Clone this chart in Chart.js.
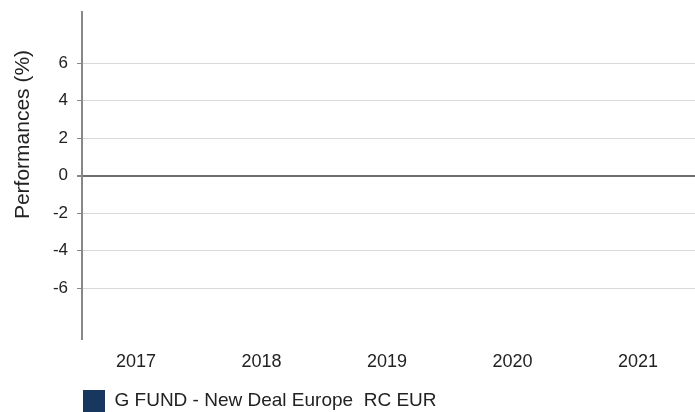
<!DOCTYPE html>
<html>
<head>
<meta charset="utf-8">
<script src="https://cdn.jsdelivr.net/npm/chart.js@4/dist/chart.umd.min.js"></script>
<style>
  html, body { margin: 0; padding: 0; background: #ffffff; }
  #wrap { width: 695px; height: 412px; position: relative; }
</style>
</head>
<body>
<div id="wrap"><canvas id="c" width="695" height="412"></canvas></div>
<script>
// ---- data ----
const categories = [2017, 2018, 2019, 2020, 2021];
const seriesName = "G FUND - New Deal Europe  RC EUR";
const seriesValues = [null, null, null, null, null];
const yTickValues = [-6, -4, -2, 0, 2, 4, 6];
const yAxisTitle = "Performances (%)";

const FONT = "'Liberation Sans', Arial, Helvetica, sans-serif";

const yTitlePlugin = {
  id: 'yTitlePlugin',
  afterDraw(chart) {
    const ctx = chart.ctx;
    ctx.save();
    ctx.translate(23.5, 134.5);
    ctx.rotate(-Math.PI / 2);
    ctx.font = "21px " + FONT;
    ctx.fillStyle = '#222222';
    ctx.textAlign = 'center';
    ctx.textBaseline = 'middle';
    ctx.fillText(yAxisTitle, 0, 0);
    ctx.restore();
  }
};

// shift the legend so its first item starts under the y axis line
const legendShift = {
  id: 'legendShift',
  afterLayout(chart) {
    const lg = chart.legend;
    if (lg) {
      const dx = 72 - lg.left;
      lg.left += dx;
      lg.right += dx;
    }
  }
};

new Chart(document.getElementById('c'), {
  type: 'bar',
  data: {
    datasets: [{
      label: seriesName,
      data: categories.map((c, i) => ({ x: c, y: seriesValues[i] })),
      backgroundColor: '#17375e',
      borderColor: '#17375e',
      borderWidth: 0
    }]
  },
  options: {
    responsive: false,
    animation: false,
    devicePixelRatio: 1,
    layout: { padding: { left: 52, right: 0, top: 12, bottom: 0 } },
    plugins: {
      legend: {
        display: true,
        position: 'bottom',
        align: 'start',
        maxHeight: 33,
        labels: {
          boxWidth: 22,
          boxHeight: 22,
          padding: 11,
          color: '#222222',
          font: { family: FONT, size: 19 }
        }
      },
      tooltip: { enabled: false }
    },
    scales: {
      x: {
        type: 'linear',
        offset: false,
        min: 2016.57,
        max: 2021.454,
        grid: { display: false, drawTicks: false, offset: false },
        border: { display: false },
        ticks: {
          padding: 12,
          color: '#222222',
          font: { family: FONT, size: 18 },
          maxRotation: 0,
          autoSkip: false,
          callback: v => String(v)
        },
        afterBuildTicks: s => { s.ticks = categories.map(v => ({ value: v })); },
        afterFit: s => { s.height = 40; s.paddingLeft = 0; s.paddingRight = 0; s.paddingTop = 0; s.paddingBottom = 0; }
      },
      y: {
        min: -8.72,
        max: 8.72,
        grid: {
          color: c => (c.tick && c.tick.value === 0) ? '#6e6e6e' : '#d9d9d9',
          lineWidth: c => (c.tick && c.tick.value === 0) ? 2 : 1,
          tickColor: '#888888',
          tickLength: 5,
          drawTicks: true
        },
        border: { display: true, color: '#888888', width: 2 },
        ticks: {
          padding: 9,
          color: '#222222',
          font: { family: FONT, size: 17 },
          callback: v => String(v)
        },
        afterBuildTicks: s => { s.ticks = yTickValues.map(v => ({ value: v })); },
        afterFit: s => { s.width = 30; s.paddingTop = 0; s.paddingBottom = 0; s.paddingLeft = 0; s.paddingRight = 0; }
      }
    }
  },
  plugins: [yTitlePlugin, legendShift]
});
</script>
</body>
</html>
